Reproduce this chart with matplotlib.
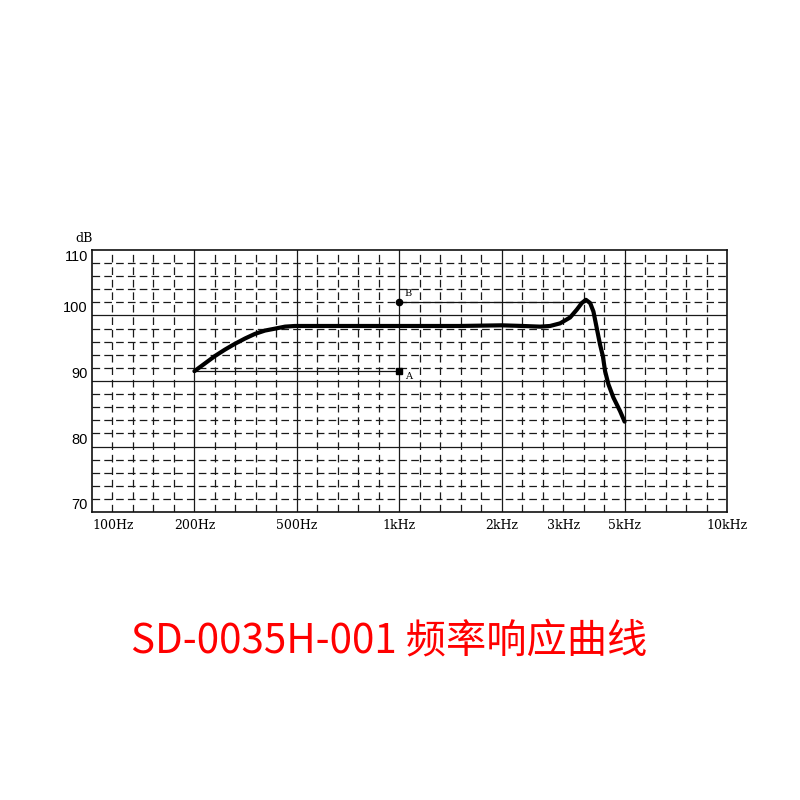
import numpy as np
import matplotlib
matplotlib.use("Agg")
import matplotlib.pyplot as plt

plt.rcParams['lines.scale_dashes'] = False

# chart paper: labelled frequencies and the grid column they sit on
tick_freqs = [100, 200, 500, 1000, 2000, 3000, 5000, 10000]
tick_cols = [0, 5, 10, 15, 20, 23, 26, 31]
tick_labels = ["100Hz", "200Hz", "500Hz", "1kHz", "2kHz", "3kHz", "5kHz", "10kHz"]
solid_freqs = [200, 500, 1000, 2000, 5000]
db_ticks = [70, 80, 90, 100, 110]

# response curve
freq = [200, 220, 240, 263, 288, 315, 344, 376, 412, 450, 491, 700, 1000, 1500,
        2000, 2300, 2577, 2752, 2940, 3179, 3362, 3503, 3624, 3756, 3860, 3966,
        4076, 4174, 4252, 4371, 4553, 4816, 5000]
level = [91.5, 92.7, 93.8, 94.8, 95.7, 96.5, 97.2, 97.7, 98.0, 98.3, 98.4, 98.4, 98.4, 98.4,
         98.5, 98.4, 98.3, 98.4, 98.8, 99.7, 100.9, 101.9, 102.4, 101.9, 100.6, 98.1,
         95.6, 93.8, 91.5, 89.5, 87.5, 85.4, 83.8]

# reference points A and B
ref_freq = 1000
a_level = 91.6
b_level = 102.1
b_line_end = 3600

lg_t = np.log10(tick_freqs)


def fwd(f):
    f = np.clip(np.asarray(f, dtype=float), 1e-3, None)
    return np.interp(np.log10(f), lg_t, tick_cols)


def inv(c):
    return 10 ** np.interp(np.asarray(c, dtype=float), tick_cols, lg_t)


fig = plt.figure(figsize=(8, 8), dpi=100)
ax = fig.add_axes([0.115, 0.36, 0.79375, 0.3275])
ax.set_xscale('function', functions=(fwd, inv))
ax.set_xlim(100, 10000)
ax.set_ylim(70, 110)

gc = '#1a1a1a'
for c in range(1, 31):
    f = float(inv(c))
    if any(abs(f - s) < 1 for s in solid_freqs):
        ax.axvline(f, color=gc, lw=0.9, zorder=1)
    else:
        ax.axvline(f, color=gc, lw=0.9, ls=(0, (5.5, 3.5)), zorder=1)
for v in np.arange(72, 110, 2):
    if v % 10 == 0:
        ax.axhline(v, color=gc, lw=0.9, zorder=1)
    else:
        ax.axhline(v, color=gc, lw=0.9, ls=(0, (5.5, 3.0)), zorder=1)

for s in ax.spines.values():
    s.set_color('#111111')
    s.set_linewidth(1.2)

# guide lines and markers
ax.plot([freq[0], ref_freq], [a_level, a_level], color='#111111', lw=0.9, zorder=2)
ax.plot([ref_freq, b_line_end], [b_level, b_level], color='#111111', lw=0.9, zorder=2)
ax.plot([ref_freq], [b_level], 'o', color='black', ms=4.5, zorder=3)
ax.plot([ref_freq], [a_level], 's', color='black', ms=4, zorder=3)
ax.annotate("B", (ref_freq, b_level), xytext=(4, 4), textcoords='offset points',
            fontsize=7, family='DejaVu Serif')
ax.annotate("A", (ref_freq, a_level), xytext=(4, -6), textcoords='offset points',
            fontsize=7, family='DejaVu Serif')

ax.plot(freq, level, color='black', lw=3.0, solid_capstyle='round',
        solid_joinstyle='round', zorder=4)

ax.set_xticks(tick_freqs)
ax.set_xticklabels(tick_labels, family='DejaVu Serif', fontsize=9)
ax.xaxis.set_minor_locator(matplotlib.ticker.NullLocator())
ax.tick_params(axis='x', length=0, pad=5)
xl = ax.get_xticklabels()
xl[0].set_ha('left')
xl[0].set_x(100)

ax.set_yticks(db_ticks)
ax.set_yticklabels([str(v) for v in db_ticks], family='Liberation Sans', fontsize=10.5)
ax.yaxis.set_minor_locator(matplotlib.ticker.NullLocator())
ax.tick_params(axis='y', length=0, pad=3)
for lab in ax.get_yticklabels():
    lab.set_va('bottom')
ax.get_yticklabels()[-1].set_va('top')

ax.text(-0.012, 1.02, "dB", transform=ax.transAxes, family='DejaVu Serif',
        fontsize=9, ha='center', va='bottom')

fig.text(0.486, 0.199, "SD-0035H-001 频率响应曲线", color='#ff0000', fontsize=29,
         fontweight='light', family=['Noto Sans CJK SC', 'DejaVu Sans'],
         ha='center', va='center')

fig.savefig("out.png", dpi=100, facecolor='white')
